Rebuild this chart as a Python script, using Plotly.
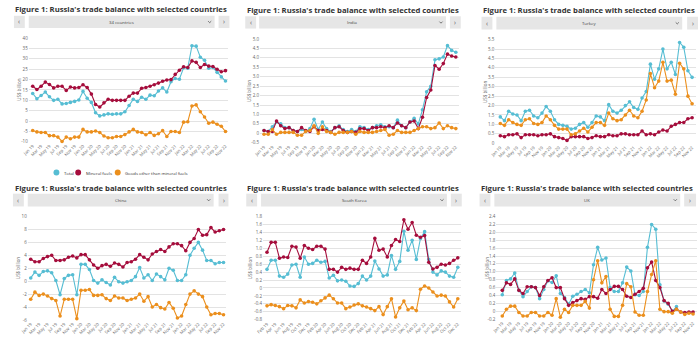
import plotly.graph_objects as go

W, H = 700, 348
FONT = "Open Sans, Noto Sans, sans-serif"

MONTH_NAMES = ["Jan", "Feb", "Mar", "Apr", "May", "Jun", "Jul", "Aug", "Sep", "Oct", "Nov", "Dec"]


def month_labels(start_m, start_y, n):
    out, m, y = [], start_m, start_y
    for _ in range(n):
        out.append(f"{MONTH_NAMES[m]} {y:02d}")
        m += 1
        if m == 12:
            m, y = 0, y + 1
    return out


months_jan19 = month_labels(0, 19, 47)   # Jan 19 .. Nov 22
months_feb19 = month_labels(1, 19, 47)   # Feb 19 .. Dec 22

series_names = ["Total", "Mineral fuels", "Goods other than mineral fuels"]
series_colors = ["#56bdd3", "#a50d3c", "#eb8f1d"]

# ---------------- data (US$ billion) ----------------
total_34 = [13.3, 10.8, 12.3, 14.0, 11.7, 10.0, 10.5, 8.3, 8.5, 9.0, 9.5, 10.2,
            14.3, 11.0, 9.0, 4.0, 2.5, 3.0, 3.5, 3.3, 3.5, 3.5, 4.5, 7.5,
            10.5, 9.5, 11.5, 10.5, 12.5, 12.2, 14.5, 16.0, 14.0, 19.0, 20.5, 20.2,
            25.7, 25.5, 36.3, 36.1, 30.8, 29.3, 25.5, 25.8, 23.5, 21.3, 19.3]
fuels_34 = [16.8, 15.2, 16.8, 18.8, 17.6, 16.0, 16.8, 16.8, 14.8, 16.4, 16.0, 16.2,
            17.5, 16.2, 13.0, 8.0, 6.8, 8.8, 10.5, 10.0, 10.0, 10.0, 10.0, 12.0,
            13.5, 13.5, 15.8, 16.2, 16.8, 17.5, 18.3, 19.2, 19.8, 20.0, 22.5, 24.5,
            26.2, 25.8, 29.0, 28.3, 25.8, 27.3, 26.5, 26.3, 25.0, 23.8, 24.3]
other_34 = [-4.5, -5.2, -5.5, -5.5, -7.0, -7.0, -7.7, -9.8, -7.7, -8.5, -7.7, -7.7,
            -4.0, -5.2, -5.2, -4.8, -5.5, -7.2, -8.0, -8.0, -7.4, -7.4, -6.5, -5.2,
            -4.0, -5.2, -5.5, -6.6, -5.5, -6.9, -6.1, -4.6, -7.4, -5.0, -5.0, -5.5,
            -0.5, -0.3, 7.3, 7.8, 4.5, 2.0, -1.0, -0.5, -1.5, -2.5, -5.0]

total_in = [0.15, 0.1, 0.35, 0.6, 0.5, 0.3, 0.3, 0.15, 0.1, 0.2, 0.1, 0.25,
            0.75, 0.2, 0.6, 0.25, 0.1, 0.3, 0.4, 0.2, 0.1, 0.2, 0.1, 0.35,
            0.3, 0.2, 0.3, 0.4, 0.45, 0.35, 0.35, 0.3, 0.7, 0.4, 0.3, 0.6,
            0.8, 0.5, 1.25, 2.2, 2.5, 3.9, 3.95, 4.05, 4.65, 4.4, 4.3]
fuels_in = [0.15, 0.1, 0.1, 0.65, 0.4, 0.25, 0.3, 0.15, 0.1, 0.3, 0.15, 0.1,
            0.35, 0.15, 0.2, 0.15, 0.05, 0.3, 0.35, 0.15, 0.05, 0.1, 0.05, 0.25,
            0.25, 0.15, 0.3, 0.3, 0.35, 0.3, 0.4, 0.3, 0.55, 0.4, 0.3, 0.6,
            0.65, 0.25, 0.85, 1.9, 2.3, 3.6, 3.4, 3.7, 4.2, 4.1, 4.05]
other_in = [-0.05, -0.05, 0.2, -0.05, 0.05, 0.05, 0.05, 0.05, -0.1, -0.1, 0.1, 0.15,
            0.4, 0.0, 0.35, 0.1, 0.05, -0.05, 0.05, 0.05, 0.05, 0.1, -0.05, 0.1,
            0.05, 0.05, 0.05, 0.1, 0.15, 0.2, -0.1, -0.05, 0.15, 0.05, 0.05, 0.05,
            0.15, 0.25, 0.35, 0.35, 0.25, 0.3, 0.55, 0.25, 0.4, 0.3, 0.25]

total_tr = [1.4, 1.2, 1.7, 1.55, 1.5, 1.2, 1.7, 1.75, 1.45, 1.35, 1.6, 1.95,
            1.7, 1.25, 1.0, 0.95, 0.9, 0.75, 0.8, 1.0, 1.1, 0.85, 1.1, 1.45,
            1.4, 1.2, 2.05, 1.7, 1.6, 1.75, 2.0, 2.2, 1.9, 1.8, 2.4, 2.75,
            4.2, 3.4, 3.95, 5.0, 3.95, 4.3, 3.65, 5.35, 5.1, 3.85, 3.5]
fuels_tr = [0.4, 0.35, 0.45, 0.45, 0.5, 0.3, 0.45, 0.45, 0.45, 0.4, 0.45, 0.45,
            0.5, 0.35, 0.3, 0.25, 0.15, 0.35, 0.35, 0.35, 0.35, 0.25, 0.3, 0.4,
            0.35, 0.35, 0.45, 0.4, 0.4, 0.5, 0.5, 0.45, 0.45, 0.45, 0.65, 0.45,
            0.5, 0.45, 0.6, 0.7, 0.65, 0.9, 1.0, 1.1, 1.1, 1.3, 1.35]
other_tr = [1.05, 0.95, 1.25, 1.1, 1.0, 0.95, 1.25, 1.3, 1.05, 1.0, 1.1, 1.45,
            1.25, 0.95, 0.75, 0.75, 0.75, 0.45, 0.5, 0.65, 0.8, 0.6, 0.85, 1.1,
            1.1, 0.95, 1.6, 1.3, 1.2, 1.25, 1.5, 1.75, 1.45, 1.35, 1.7, 2.3,
            3.7, 2.95, 3.3, 4.3, 3.3, 3.35, 2.6, 4.25, 3.95, 2.5, 2.1]

total_cn = [0.5, 1.4, 0.9, 1.5, 1.6, 1.3, 0.1, -2.1, 0.4, 0.9, 1.0, -2.1,
            2.6, 2.6, 1.8, 0.1, -0.3, 0.2, -0.2, -0.6, 0.6, -0.1, -0.3, -0.1,
            0.1, 0.7, 2.1, 0.5, 1.0, 0.1, 1.1, 0.7, 0.2, 2.0, 1.7, 0.1,
            0.1, 1.0, 4.0, 5.1, 6.0, 4.8, 3.2, 3.2, 2.7, 2.9, 2.9]
fuels_cn = [3.4, 3.0, 3.0, 3.5, 3.8, 4.0, 3.2, 3.2, 3.3, 3.7, 3.9, 3.6,
            4.1, 4.1, 3.3, 2.5, 2.0, 2.4, 2.6, 2.3, 2.8, 2.6, 2.2, 2.9,
            3.0, 3.4, 4.1, 3.7, 3.3, 4.2, 4.6, 4.9, 4.6, 5.3, 5.8, 5.8,
            5.5, 4.7, 6.0, 6.6, 8.0, 7.1, 7.2, 8.3, 7.6, 7.8, 8.0]
other_cn = [-2.8, -1.7, -2.2, -2.0, -2.3, -2.7, -3.0, -5.4, -2.8, -2.8, -2.8, -5.8,
            -1.4, -1.4, -1.3, -2.2, -2.2, -2.1, -2.7, -3.0, -2.3, -2.6, -2.6, -3.0,
            -2.8, -2.6, -2.0, -3.1, -2.4, -4.0, -3.6, -4.1, -4.3, -3.3, -4.2, -5.7,
            -5.4, -3.6, -2.0, -1.5, -2.0, -2.4, -4.0, -5.2, -5.0, -5.0, -5.2]

total_kr = [0.47, 0.7, 0.7, 0.3, 0.27, 0.35, 0.58, 0.6, 0.27, 0.78, 0.6, 0.62,
            0.7, 0.65, 0.67, 0.25, 0.32, 0.18, 0.2, 0.17, 0.05, 0.04, 0.11, 0.3,
            0.2, 0.3, 0.68, 0.48, 0.3, 0.33, 0.82, 0.47, 0.67, 1.43, 0.95, 1.2,
            0.72, 1.25, 1.42, 0.72, 0.4, 0.33, 0.43, 0.4, 0.3, 0.27, 0.52]
fuels_kr = [0.9, 1.15, 1.15, 0.75, 0.78, 0.77, 1.05, 1.03, 0.75, 1.07, 1.0, 0.97,
            1.05, 1.05, 0.98, 0.47, 0.47, 0.4, 0.52, 0.47, 0.5, 0.47, 0.47, 0.7,
            0.62, 0.78, 1.25, 0.95, 0.98, 0.78, 1.07, 1.22, 1.17, 1.72, 1.48, 1.65,
            1.33, 1.28, 1.32, 0.65, 0.48, 0.52, 0.6, 0.58, 0.62, 0.7, 0.76]
other_kr = [-0.45, -0.42, -0.44, -0.47, -0.52, -0.44, -0.45, -0.5, -0.3, -0.38, -0.34, -0.36,
            -0.4, -0.32, -0.25, -0.18, -0.27, -0.38, -0.38, -0.52, -0.48, -0.43, -0.4, -0.45,
            -0.48, -0.52, -0.57, -0.47, -0.67, -0.47, -0.27, -0.73, -0.5, -0.33, -0.55, -0.5,
            -0.57, -0.03, 0.05, 0.0, -0.1, -0.2, -0.18, -0.2, -0.35, -0.48, -0.27]

total_uk = [0.42, 0.78, 0.82, 0.97, 0.53, 0.37, 0.5, 0.62, 0.6, 0.32, 0.55, 0.77,
            0.73, 0.9, 0.45, 0.35, 0.18, 0.38, 0.43, 0.5, 0.55, 0.47, 1.18, 1.62,
            1.3, 1.35, 0.6, 0.5, 0.5, 0.72, 1.12, 1.02, 0.42, 0.4, 0.5, 1.62,
            2.2, 2.08, 0.67, 0.26, 0.18, 0.0, 0.12, None, None, None, None]
fuels_uk = [0.53, 0.72, 0.68, 0.82, 0.53, 0.45, 0.62, 0.62, 0.6, 0.4, 0.62, 0.78,
            0.85, 0.6, 0.6, 0.32, 0.15, 0.22, 0.27, 0.32, 0.3, 0.37, 0.37, 0.33,
            0.55, 0.45, 0.55, 0.63, 0.63, 0.55, 0.38, 0.35, 0.43, 0.5, 0.58, 1.1,
            1.25, 0.78, 0.6, 0.27, 0.2, 0.0, 0.05, -0.02, -0.03, -0.02, -0.02]
other_uk = [-0.12, 0.05, 0.13, 0.13, -0.03, -0.12, -0.12, -0.03, -0.03, -0.12, -0.12, -0.03,
            -0.1, 0.32, -0.15, 0.05, -0.03, 0.15, 0.15, 0.15, 0.25, 0.08, 0.8, 1.28,
            0.72, 0.88, 0.05, -0.13, -0.13, 0.15, 0.7, 0.62, -0.02, -0.1, -0.1, 0.5,
            0.93, 1.28, 0.05, -0.01, -0.01, -0.05, 0.05, -0.02, -0.08, -0.05, -0.07]

# y-axis tick labels per panel
yticks_34 = [-10, -5, 0, 5, 10, 15, 20, 25, 30, 35, 40]
yticks_in = [-0.5, 0, 0.5, 1.0, 1.5, 2.0, 2.5, 3.0, 3.5, 4.0, 4.5, 5.0]
yticks_tr = [0, 0.5, 1.0, 1.5, 2.0, 2.5, 3.0, 3.5, 4.0, 4.5, 5.0, 5.5]
yticks_cn = [-6, -4, -2, 0, 2, 4, 6, 8, 10]
yticks_kr = [-0.8, -0.6, -0.4, -0.2, 0, 0.2, 0.4, 0.6, 0.8, 1.0, 1.2, 1.4, 1.6, 1.8]
yticks_uk = [-0.2, 0, 0.2, 0.4, 0.6, 0.8, 1.0, 1.2, 1.4, 1.6, 1.8, 2.0, 2.2, 2.4]

panels = [
    dict(name="34 countries", months=months_jan19, data=[total_34, fuels_34, other_34], yt=yticks_34, dec=0),
    dict(name="India", months=months_jan19, data=[total_in, fuels_in, other_in], yt=yticks_in, dec=1),
    dict(name="Turkey", months=months_jan19, data=[total_tr, fuels_tr, other_tr], yt=yticks_tr, dec=1),
    dict(name="China", months=months_jan19, data=[total_cn, fuels_cn, other_cn], yt=yticks_cn, dec=0),
    dict(name="South Korea", months=months_feb19, data=[total_kr, fuels_kr, other_kr], yt=yticks_kr, dec=1),
    dict(name="UK", months=months_jan19, data=[total_uk, fuels_uk, other_uk], yt=yticks_uk, dec=1),
]

# ---------------- layout geometry (pixels) ----------------
geo = [
    dict(L=21, R=223, p0=25, p1=220, top=35.7, bot=141.3, ytx=11, tcx=114, ty=6.5,
         lb=(6, 17), mb=(21, 209), rb=(213, 224), by=(13, 25.5)),
    dict(L=255, R=456, p0=259, p1=453, top=36.7, bot=142.2, ytx=244, tcx=349, ty=7,
         lb=(240, 251), mb=(254, 443), rb=(447, 458), by=(13.5, 26)),
    dict(L=493, R=696, p0=498, p1=692, top=37.3, bot=142.7, ytx=483, tcx=587.5, ty=7.5,
         lb=(479, 490), mb=(494, 682), rb=(687, 698), by=(14, 27)),
    dict(L=20, R=221, p0=23, p1=218, top=217.3, bot=322.5, ytx=10, tcx=114, ty=188,
         lb=(5, 16), mb=(20, 208), rb=(213, 223), by=(194, 207)),
    dict(L=258, R=458, p0=262, p1=455, top=217.3, bot=322.3, ytx=245, tcx=349, ty=188,
         lb=(241, 252), mb=(256, 444), rb=(448, 459), by=(194, 207)),
    dict(L=494, R=697, p0=500, p1=693, top=217.3, bot=321.7, ytx=484, tcx=586, ty=188,
         lb=(477, 488), mb=(492, 680), rb=(684, 696), by=(194, 207)),
]


def px(x):
    return x / W


def py(y):
    return 1 - y / H


def fmt(v, dec):
    if v == 0:
        return "0"
    return f"{v:.{dec}f}"


fig = go.Figure()
shapes, annotations = [], []
layout_axes = {}

for k, (p, g) in enumerate(zip(panels, geo), start=1):
    xa = "x" if k == 1 else f"x{k}"
    ya = "y" if k == 1 else f"y{k}"
    n = len(p["months"])
    s = (g["p1"] - g["p0"]) / (n - 1)
    xr = [-(g["p0"] - g["L"]) / s, (n - 1) + (g["R"] - g["p1"]) / s]
    for vals, name, col in zip(p["data"], series_names, series_colors):
        fig.add_trace(go.Scatter(
            x=p["months"], y=vals, name=name, mode="lines+markers",
            line=dict(color=col, width=1.1),
            marker=dict(color=col, size=3.6, symbol="circle"),
            xaxis=xa, yaxis=ya, showlegend=False, cliponaxis=False,
            connectgaps=False,
        ))
    layout_axes["xaxis" if k == 1 else f"xaxis{k}"] = dict(
        type="category", categoryorder="array", categoryarray=p["months"],
        domain=[px(g["L"]), px(g["R"])], anchor=ya, range=xr,
        tickmode="array", tickvals=p["months"][::2], ticktext=p["months"][::2],
        tickangle=-45, tickfont=dict(family=FONT, size=4.3, color="#666666"),
        showgrid=False, zeroline=False, showline=False, ticks="", fixedrange=True,
    )
    yt = p["yt"]
    layout_axes["yaxis" if k == 1 else f"yaxis{k}"] = dict(
        domain=[py(g["bot"]), py(g["top"])], anchor=xa,
        range=[yt[0], yt[-1]], tickmode="array", tickvals=yt,
        ticktext=[fmt(v, p["dec"]) for v in yt],
        tickfont=dict(family=FONT, size=4.5, color="#666666"),
        showgrid=True, gridcolor="#e3e3e3", gridwidth=0.8,
        zeroline=False, showline=False, ticks="", fixedrange=True,
    )
    # y axis title
    annotations.append(dict(
        text="US$ billion", textangle=-90, x=px(g["ytx"]), y=py((g["top"] + g["bot"]) / 2),
        xref="paper", yref="paper", showarrow=False, xanchor="center", yanchor="middle",
        font=dict(family=FONT, size=4.5, color="#666666"),
    ))
    # chart title
    annotations.append(dict(
        text="<b>Figure 1: Russia's trade balance with selected countries</b>",
        x=px(g["tcx"]), y=py(g["ty"]), xref="paper", yref="paper", showarrow=False,
        xanchor="center", yanchor="middle",
        font=dict(family=FONT, size=7.7, color="#333333"),
    ))
    # dropdown bar
    y0, y1 = g["by"]
    for (a, b) in (g["lb"], g["mb"], g["rb"]):
        shapes.append(dict(type="rect", xref="paper", yref="paper",
                           x0=px(a), x1=px(b), y0=py(y1), y1=py(y0),
                           fillcolor="#e6e6e6", line=dict(width=0), layer="below"))
    ymid = (y0 + y1) / 2
    annotations.append(dict(text="‹", x=px(sum(g["lb"]) / 2), y=py(ymid), xref="paper", yref="paper",
                            showarrow=False, font=dict(family=FONT, size=6.5, color="#555555"),
                            xanchor="center", yanchor="middle"))
    annotations.append(dict(text="›", x=px(sum(g["rb"]) / 2), y=py(ymid), xref="paper", yref="paper",
                            showarrow=False, font=dict(family=FONT, size=6.5, color="#555555"),
                            xanchor="center", yanchor="middle"))
    annotations.append(dict(text=p["name"], x=px(sum(g["mb"]) / 2), y=py(ymid), xref="paper", yref="paper",
                            showarrow=False, font=dict(family=FONT, size=4.3, color="#444444"),
                            xanchor="center", yanchor="middle"))
    cx = g["mb"][1] - 5
    shapes.append(dict(type="path", xref="paper", yref="paper",
                       path=f"M {px(cx - 1.6)} {py(ymid - 0.8)} L {px(cx)} {py(ymid + 0.8)} L {px(cx + 1.6)} {py(ymid - 0.8)}",
                       line=dict(color="#555555", width=0.8)))

# legend (top-left panel)
leg_y = 172.5
leg_items = [(49, 54.5), (71, 76.5), (111, 116.5)]
for (cxl, tx), name, col in zip(leg_items, series_names, series_colors):
    r = 3.0
    shapes.append(dict(type="circle", xref="paper", yref="paper",
                       x0=px(cxl - r), x1=px(cxl + r), y0=py(leg_y + r), y1=py(leg_y - r),
                       fillcolor=col, line=dict(width=0)))
    annotations.append(dict(text=name, x=px(tx), y=py(leg_y), xref="paper", yref="paper",
                            showarrow=False, xanchor="left", yanchor="middle",
                            font=dict(family=FONT, size=4.3, color="#333333")))

fig.update_layout(
    width=W, height=H, autosize=False,
    margin=dict(l=0, r=0, t=0, b=0, pad=0),
    paper_bgcolor="white", plot_bgcolor="white",
    showlegend=False, shapes=shapes, annotations=annotations,
    font=dict(family=FONT),
    **layout_axes,
)

fig.write_html("out.html")
